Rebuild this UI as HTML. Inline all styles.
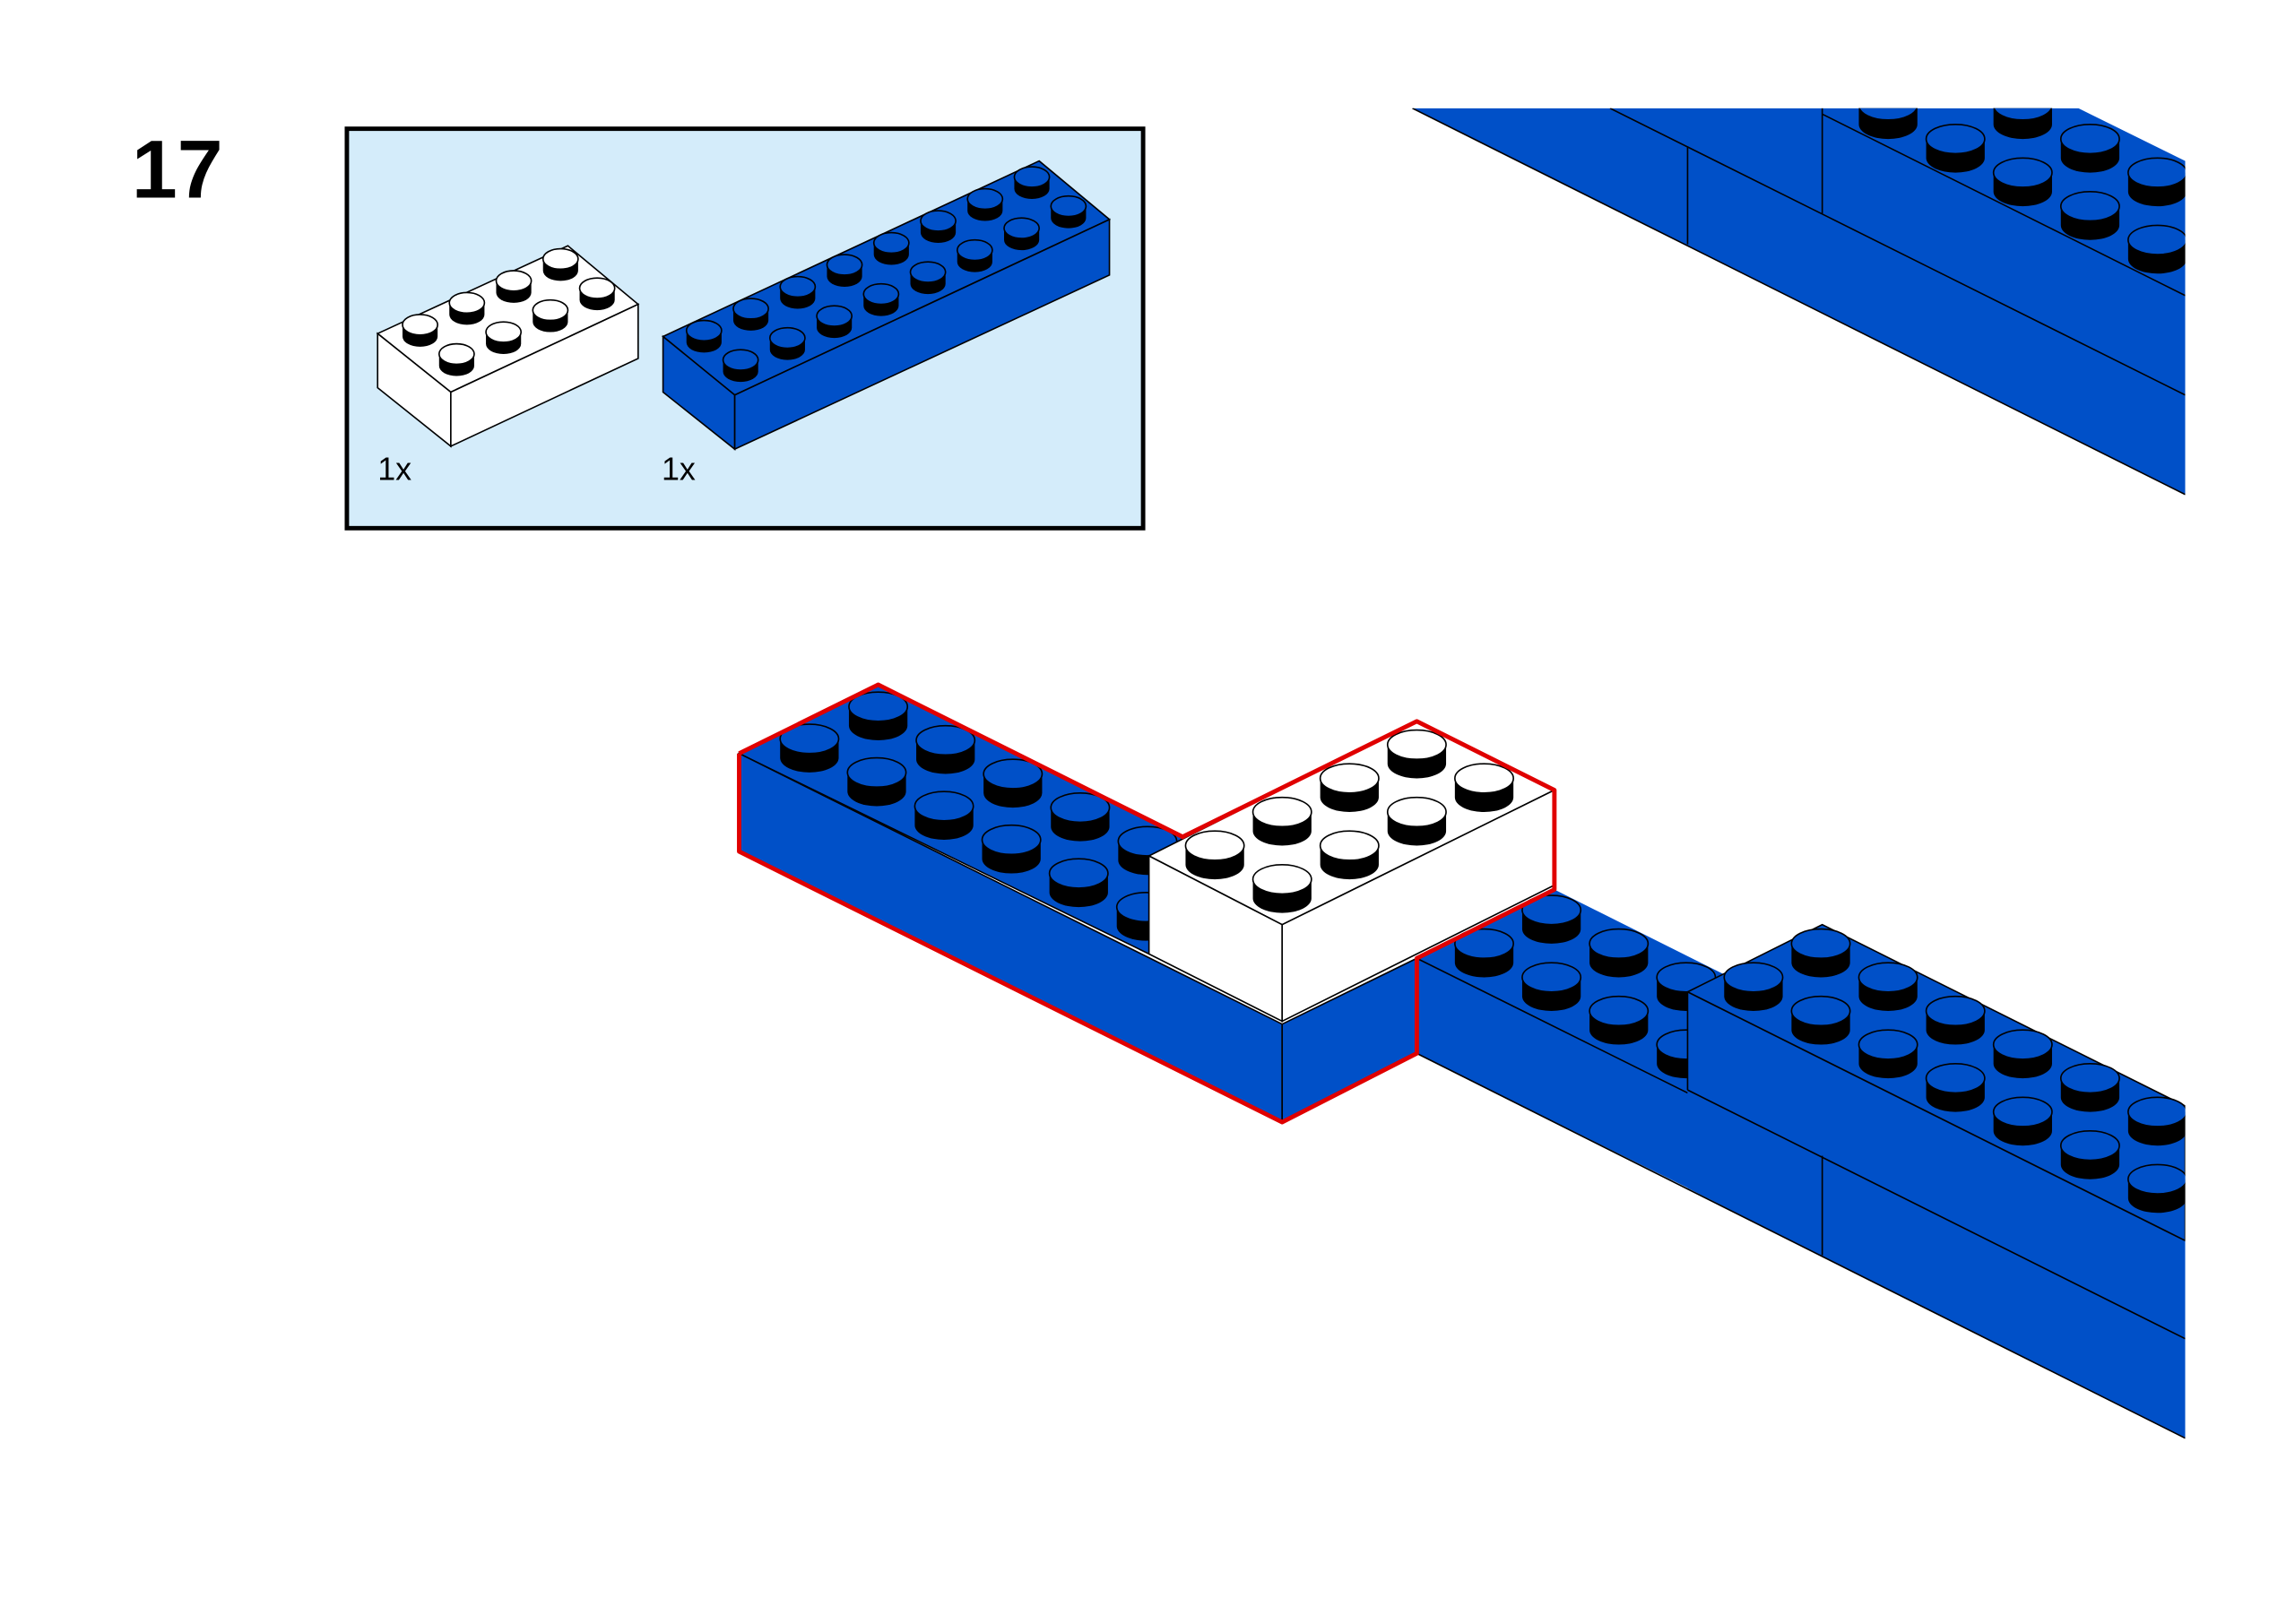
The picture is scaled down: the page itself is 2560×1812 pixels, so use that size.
<!DOCTYPE html>
<html><head><meta charset="utf-8"><style>
html,body{margin:0;padding:0;background:#fff;}
svg{display:block;}
</style></head><body>
<svg id="s" width="2560" height="1812" viewBox="0 0 1568 1110" preserveAspectRatio="none" xmlns="http://www.w3.org/2000/svg">
<defs>
<clipPath id="ctr"><rect x="900" y="74" width="593" height="300"/></clipPath>
<clipPath id="cbr"><rect x="900" y="560" width="593" height="500"/></clipPath>
</defs>
<text x="90" y="135" font-family="Liberation Sans, sans-serif" font-weight="bold" font-size="56">17</text>
<rect x="237" y="88" width="544" height="273" fill="#d4ecfa" stroke="#000" stroke-width="3"/>
<g stroke="#000" stroke-width="1">
<polygon points="258,228 388,168 436,208 308,268" fill="#fff"/>
<polygon points="258,228 308,268 308,305 258,265" fill="#fff"/>
<polygon points="308,268 436,208 436,245 308,305" fill="#fff"/>
<polygon points="453,230 710,110 758,150 502,270" fill="#0050c8"/>
<polygon points="453,230 502,270 502,307 453,268" fill="#0050c8"/>
<polygon points="502,270 758,150 758,188 502,307" fill="#0050c8"/>
</g>
<g id="partstuds"></g>
<text x="258" y="328" font-family="Liberation Sans, sans-serif" font-size="22">1x</text>
<text x="452" y="328" font-family="Liberation Sans, sans-serif" font-size="22">1x</text>

<g clip-path="url(#ctr)">
<polygon points="965,74 1420,74 1493,110 1493,338" fill="#0050c8"/>
<g stroke="#000" stroke-width="1" fill="none">
<line x1="965" y1="74" x2="1493" y2="338"/>
<line x1="1100" y1="74" x2="1493" y2="270"/>
<line x1="1245" y1="78" x2="1493" y2="202"/>
<line x1="1153" y1="100" x2="1153" y2="167"/>
<line x1="1245" y1="74" x2="1245" y2="146"/>
</g>
<g id="trstuds"></g>
</g>

<g clip-path="url(#cbr)">
<polygon points="968,655 1062,608 1260,707 1260,865 968,720" fill="#0050c8"/>
<g stroke="#000" stroke-width="1" fill="none">
<line x1="968" y1="655" x2="1153" y2="747"/>
</g>
<g id="astuds"></g>
<polygon points="1153,678 1245,632 1493,756 1493,848" fill="#0050c8" stroke="#000" stroke-width="1"/>
<polygon points="1153,678 1493,848 1493,983 1245,859 1153,812" fill="#0050c8"/>
<g stroke="#000" stroke-width="1" fill="none">
<line x1="1153" y1="678" x2="1493" y2="848"/>
<line x1="1153" y1="745" x2="1493" y2="915"/>
<line x1="1153" y1="678" x2="1153" y2="745"/>
<line x1="1245" y1="790" x2="1245" y2="858"/>
<line x1="968" y1="720" x2="1493" y2="983"/>
</g>
<g id="brstuds"></g>
</g>

<g stroke="#000" stroke-width="1">
<polygon points="505,515 600,468 876,606 785,652" fill="#0050c8"/>
<polygon points="505,515 876,700 876,767 505,582" fill="#0050c8"/>
<polygon points="876,700 968,655 968,720 876,767" fill="#0050c8"/>
</g>
<g id="lstuds"></g>
<g stroke="#000" stroke-width="1">
<polygon points="785,585 968,493 1062,540 876,632" fill="#fff"/>
<polygon points="785,585 876,632 876,698 785,652" fill="#fff"/>
<polygon points="876,632 1062,540 1062,605 876,698" fill="#fff"/>
</g>
<g id="wstuds"></g>
<polyline points="505,515 600,468 808,572 968,493 1062,540 1062,608 968,655 968,720 876,767 505,582 505,515" fill="none" stroke="#e00000" stroke-width="3" stroke-linejoin="round"/>
</svg>
<script>
var NS="http://www.w3.org/2000/svg";
function stud(g,cx,cy,rx,ry,h,fill){
 var p=document.createElementNS(NS,"path");
 p.setAttribute("d","M"+(cx-rx)+","+cy+" L"+(cx-rx)+","+(cy+h)+" A"+rx+" "+ry+" 0 0 0 "+(cx+rx)+","+(cy+h)+" L"+(cx+rx)+","+cy+" Z");
 p.setAttribute("fill","#000");g.appendChild(p);
 var e=document.createElementNS(NS,"ellipse");
 e.setAttribute("cx",cx);e.setAttribute("cy",cy);e.setAttribute("rx",rx);e.setAttribute("ry",ry);
 e.setAttribute("fill",fill);e.setAttribute("stroke","#000");e.setAttribute("stroke-width","1");g.appendChild(e);
}
function grid(id,ox,oy,ux,uy,vx,vy,ni,nj,rx,ry,h,fill){
 var g=document.getElementById(id),list=[];
 for(var i=0;i<ni;i++)for(var j=0;j<nj;j++)list.push([ox+ux*i+vx*j,oy+uy*i+vy*j]);
 list.sort(function(a,b){return a[1]-b[1];});
 list.forEach(function(p){stud(g,p[0],p[1],rx,ry,h,fill);});
}
var B="#0050c8";
grid("partstuds",287,222,25,20,32,-15,2,4,12,7,8,"#fff");
grid("partstuds",481,226,25,20,32,-15,2,8,12,7,8,B);
grid("trstuds",1290,72,46,23,46,-23,6,2,20,10,13,B);
grid("astuds",1014,645,46,23,46,-23,4,2,20,10,13,B);
grid("brstuds",1198,668,46,23,46,-23,7,2,20,10,13,B);
grid("lstuds",553,505,46,23,47,-22,6,2,20,10,13,B);
grid("wstuds",830,578,46,23,46,-23,2,4,20,10,13,"#fff");
</script>
</body></html>
